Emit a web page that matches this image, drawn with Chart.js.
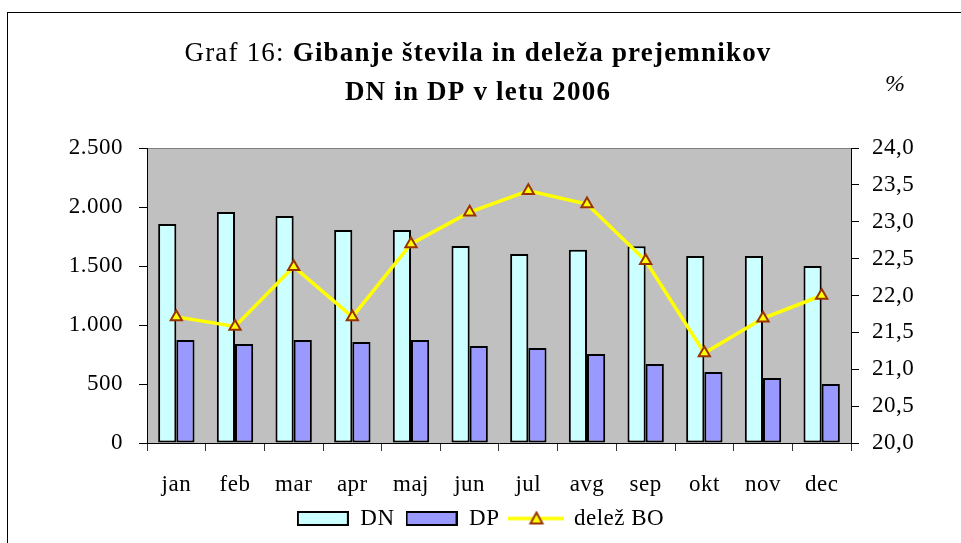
<!DOCTYPE html>
<html>
<head>
<meta charset="utf-8">
<script src="https://cdn.jsdelivr.net/npm/chart.js@4.4.1/dist/chart.umd.min.js"></script>
<style>
html, body { margin: 0; padding: 0; background: #fff; overflow: hidden; }
canvas { display: block; }
</style>
</head>
<body>
<canvas id="chart" width="961" height="543"></canvas>
<script>
const months = ['jan', 'feb', 'mar', 'apr', 'maj', 'jun', 'jul', 'avg', 'sep', 'okt', 'nov', 'dec'];
const dnValues = [1856, 1958, 1924, 1805, 1805, 1669, 1602, 1638, 1667, 1585, 1585, 1500];
const dpValues = [873, 839, 873, 856, 873, 822, 805, 754, 669, 602, 551, 500];
const boShare = [21.71, 21.58, 22.39, 21.71, 22.70, 23.13, 23.42, 23.24, 22.47, 21.22, 21.69, 22.00];
const leftTicks = ['0', '500', '1.000', '1.500', '2.000', '2.500'];
const rightTicks = ['20,0', '20,5', '21,0', '21,5', '22,0', '22,5', '23,0', '23,5', '24,0'];
const seriesNames = ['DN', 'DP', 'delež BO'];

const serif = "'Liberation Serif', 'Times New Roman', serif";
const dnColor = '#ccffff';
const dpColor = '#9999ff';
const lineColor = '#ffff00';
const markerBorder = '#993300';

// legend icons drawn as small canvases, used as point styles
function boxIcon(fill) {
    const c = document.createElement('canvas');
    c.width = 52; c.height = 15;
    const g = c.getContext('2d');
    g.fillStyle = fill;
    g.fillRect(1, 1, 50, 13);
    g.strokeStyle = '#000';
    g.lineWidth = 2;
    g.strokeRect(1, 1, 50, 13);
    return c;
}

function lineIcon() {
    const c = document.createElement('canvas');
    c.width = 56; c.height = 16;
    const g = c.getContext('2d');
    g.strokeStyle = lineColor;
    g.lineWidth = 3.5;
    g.beginPath(); g.moveTo(0, 8); g.lineTo(56, 8); g.stroke();
    g.fillStyle = lineColor;
    g.strokeStyle = markerBorder;
    g.lineWidth = 2;
    g.beginPath(); g.moveTo(28, 2); g.lineTo(34, 13); g.lineTo(22, 13); g.closePath();
    g.fill(); g.stroke();
    return c;
}

const legendIcons = [boxIcon(dnColor), boxIcon(dpColor), lineIcon()];

function drawRuns(ctx, runs, cx, y) {
    let total = 0;
    runs.forEach(r => { ctx.font = r.font; r.w = ctx.measureText(r.text).width; total += r.w; });
    let x = cx - total / 2;
    runs.forEach(r => { ctx.font = r.font; ctx.fillText(r.text, x, y); x += r.w; });
}

const framePlugin = {
    id: 'frame',
    beforeUpdate(chart) {
        chart.ctx.letterSpacing = '0.5px';
    },
    beforeDraw(chart) {
        const { ctx, chartArea: a } = chart;
        ctx.save();
        ctx.fillStyle = '#fff';
        ctx.fillRect(0, 0, chart.width, chart.height);
        ctx.strokeStyle = '#000';
        ctx.lineWidth = 1;
        ctx.strokeRect(7.5, 12.5, 1000, 1000);
        ctx.fillStyle = '#c0c0c0';
        ctx.fillRect(a.left, a.top, a.right - a.left, a.bottom - a.top);
        ctx.strokeStyle = '#808080';
        ctx.beginPath();
        ctx.moveTo(a.left, a.top + 0.5);
        ctx.lineTo(a.right, a.top + 0.5);
        ctx.stroke();
        ctx.restore();
    },
    afterDraw(chart) {
        const ctx = chart.ctx;
        ctx.save();
        ctx.fillStyle = '#000';
        ctx.textAlign = 'left';
        ctx.textBaseline = 'alphabetic';
        ctx.letterSpacing = '1.2px';
        drawRuns(ctx, [
            { text: 'Graf 16: ', font: '27px ' + serif },
            { text: 'Gibanje števila in deleža prejemnikov', font: 'bold 27px ' + serif }
        ], 478, 61);
        drawRuns(ctx, [
            { text: 'DN in DP v letu 2006', font: 'bold 27px ' + serif }
        ], 478, 100);
        ctx.letterSpacing = '0px';
        ctx.font = 'italic 24px ' + serif;
        ctx.textAlign = 'center';
        ctx.fillText('%', 895, 91);
        ctx.restore();
    }
};

const tickFont = { family: serif, size: 23 };

new Chart(document.getElementById('chart').getContext('2d'), {
    type: 'bar',
    data: {
        labels: months,
        datasets: [
            {
                type: 'line',
                label: seriesNames[2],
                data: boShare,
                yAxisID: 'y1',
                borderColor: lineColor,
                borderWidth: 3.5,
                tension: 0,
                pointStyle: 'triangle',
                pointRadius: 6.5,
                pointBackgroundColor: lineColor,
                pointBorderColor: markerBorder,
                pointBorderWidth: 2,
                order: 0
            },
            {
                label: seriesNames[0],
                data: dnValues,
                yAxisID: 'y',
                backgroundColor: dnColor,
                borderColor: '#000',
                borderWidth: 2,
                borderSkipped: false,
                categoryPercentage: 0.62,
                barPercentage: 1.0,
                order: 1
            },
            {
                label: seriesNames[1],
                data: dpValues,
                yAxisID: 'y',
                backgroundColor: dpColor,
                borderColor: '#000',
                borderWidth: 2,
                borderSkipped: false,
                categoryPercentage: 0.62,
                barPercentage: 1.0,
                order: 1
            }
        ]
    },
    options: {
        responsive: false,
        animation: false,
        layout: { padding: { top: 148, left: 0, right: 0, bottom: 3 } },
        scales: {
            x: {
                grid: { offset: true, drawOnChartArea: false, drawTicks: true, tickLength: 8, color: '#333' },
                border: { display: true, color: '#000', width: 1 },
                ticks: { font: tickFont, color: '#000', padding: 20, maxRotation: 0, autoSkip: false },
                afterFit(s) { s.height = 53; }
            },
            y: {
                position: 'left',
                min: 0,
                max: 2500,
                grid: { drawOnChartArea: false, tickLength: 8, color: '#000' },
                border: { display: true, color: '#000', width: 1 },
                ticks: { stepSize: 500, font: tickFont, color: '#000', padding: 16, callback: (v, i) => leftTicks[i] },
                afterFit(s) { s.width = 147; }
            },
            y1: {
                position: 'right',
                min: 20,
                max: 24,
                grid: { drawOnChartArea: false, tickLength: 8, color: '#000' },
                border: { display: true, color: '#000', width: 1 },
                ticks: { stepSize: 0.5, font: tickFont, color: '#000', padding: 13, callback: (v, i) => rightTicks[i] },
                afterFit(s) { s.width = 110; }
            }
        },
        plugins: {
            tooltip: { enabled: false },
            legend: {
                position: 'bottom',
                labels: {
                    font: tickFont,
                    color: '#000',
                    usePointStyle: true,
                    pointStyleWidth: 52,
                    boxHeight: 14,
                    padding: 11,
                    generateLabels: () => [1, 2, 0].map((di, k) => ({
                        text: seriesNames[k],
                        datasetIndex: di,
                        pointStyle: legendIcons[k],
                        hidden: false,
                        fontColor: '#000',
                        lineWidth: 0
                    }))
                }
            }
        }
    },
    plugins: [framePlugin]
});
</script>
</body>
</html>
